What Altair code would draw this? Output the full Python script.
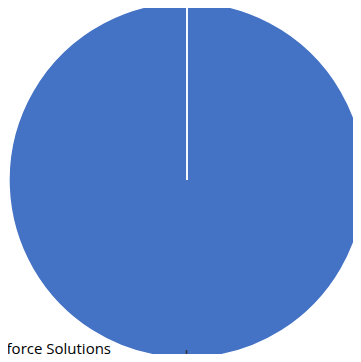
import altair as alt
import pandas as pd

categories = ["Workforce Solutions", "Other"]
values = [99.99, 0.01]

df = pd.DataFrame({"category": categories, "value": values, "order": [0, 1]})

base = alt.Chart(df)

pie = base.mark_arc(radius=178, stroke="white", strokeWidth=1.5, color="#4472C4").encode(
    theta=alt.Theta("value:Q", stack=True),
    order=alt.Order("order:Q"),
    x=alt.value(179),
    y=alt.value(172),
)

label = base.transform_filter(alt.datum.category == "Workforce Solutions").mark_text(
    font="Open Sans", fontSize=15, color="black", align="right",
    baseline="alphabetic", dx=-76
).encode(
    text="category:N",
    x=alt.value(179),
    y=alt.value(346),
)

tick = base.transform_filter(alt.datum.category == "Workforce Solutions").mark_rule(
    color="#333333", strokeWidth=1.5
).encode(
    x=alt.value(178.5), y=alt.value(342), y2=alt.value(346)
)

chart = alt.layer(pie, tick, label).properties(
    width=345, height=346, padding=0, autosize="none"
).configure_view(stroke=None)

chart.save("out.html", embed_options={"renderer": "svg", "actions": False})
